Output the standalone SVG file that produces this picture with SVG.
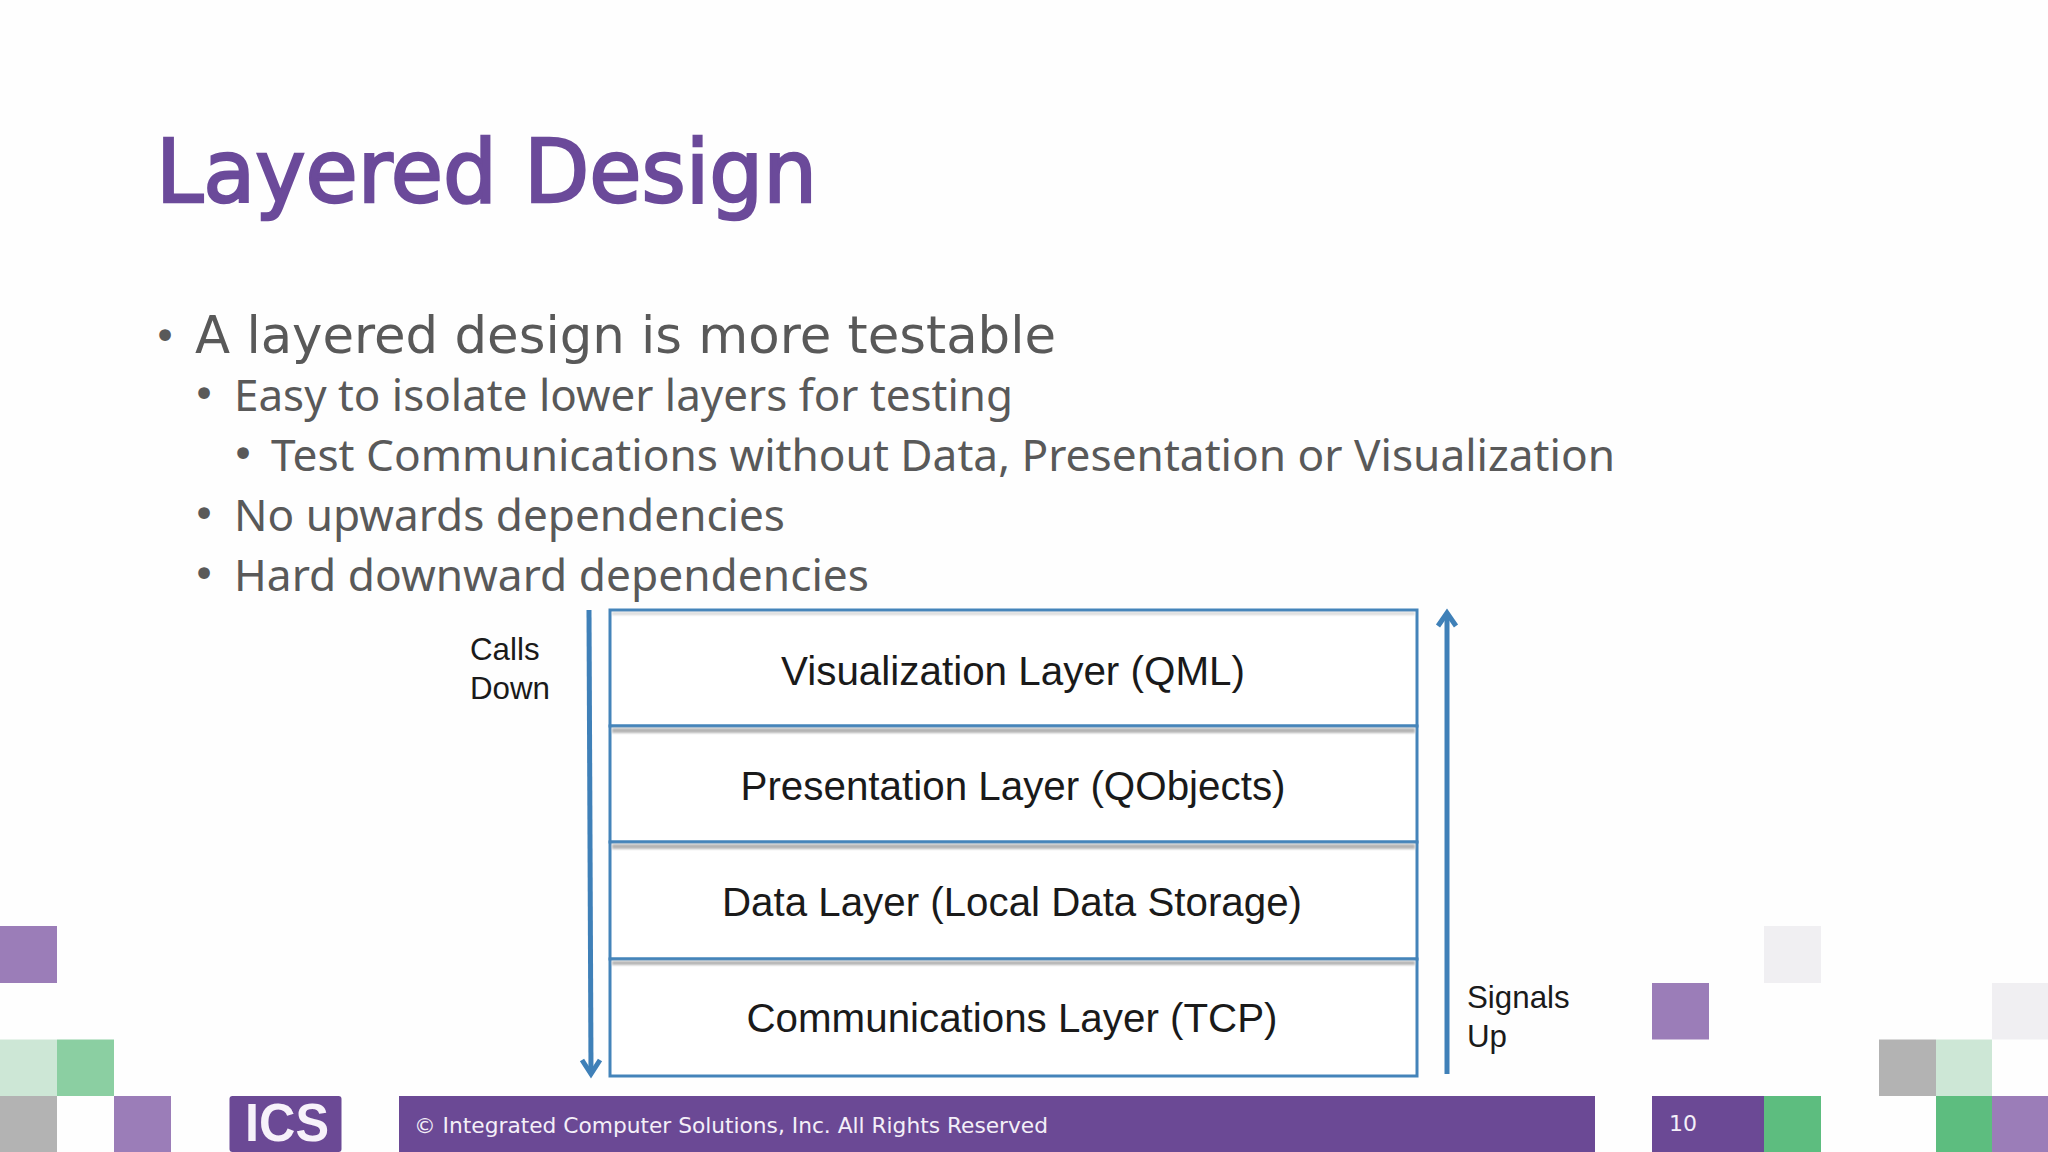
<svg xmlns="http://www.w3.org/2000/svg" width="2048" height="1152" viewBox="0 0 2048 1152">
<defs>
<filter id="soft" x="-5%" y="-100%" width="110%" height="300%"><feGaussianBlur stdDeviation="1.3"/></filter>
<style>
.title{font-family:"DejaVu Sans",sans-serif;font-size:88px;fill:#6b4a9a;stroke:#6b4a9a;stroke-width:2.500px}
.b1{font-family:"DejaVu Sans",sans-serif;font-size:52px;fill:#595959}
.b2{font-family:"Noto Sans",sans-serif;font-size:44px;fill:#595959}
.bu{font-family:"DejaVu Sans",sans-serif;font-size:40px;fill:#595959;text-anchor:middle}
.layer{font-family:"Liberation Sans",sans-serif;font-size:41px;fill:#1a1a1a;text-anchor:middle}
.note{font-family:"Liberation Sans",sans-serif;font-size:31.300px;fill:#1a1a1a}
.foot{font-family:"DejaVu Sans",sans-serif;font-size:22px;fill:#f4eff8}
.p{fill:#9b7db8}.g{fill:#5dbd7f}.lg{fill:#cde7d6}.mg{fill:#8bcfa2}.gr{fill:#b3b3b3}.w{fill:#f0eff2}.d{fill:#6b4995}
.box{fill:#fff;stroke:#4484ba;stroke-width:3}
.sh{fill:#b4b4b4;filter:url(#soft)}
.arr{stroke:#3f80b8;stroke-width:5;fill:none}
</style>
</defs>
<rect width="2048" height="1152" fill="#fefefe"/>
<g id="decor">
<rect class="p" x="0" y="926" width="57" height="57"/>
<rect class="lg" x="0" y="1039.500" width="57" height="56.500"/>
<rect class="mg" x="57" y="1039.500" width="57" height="56.500"/>
<rect class="gr" x="0" y="1096" width="57" height="56"/>
<rect class="p" x="114" y="1096" width="57" height="56"/>
<rect class="w" x="1764" y="926" width="57" height="57"/>
<rect class="p" x="1652" y="983" width="57" height="56.500"/>
<rect class="w" x="1992" y="983" width="56" height="56.500"/>
<rect class="gr" x="1879" y="1039.500" width="57" height="56.500"/>
<rect class="lg" x="1936" y="1039.500" width="56" height="56.500"/>
<rect class="g" x="1936" y="1096" width="56" height="56"/>
<rect class="p" x="1992" y="1096" width="56" height="56"/>
<rect class="g" x="1764" y="1096" width="57" height="56"/>
</g>
<g id="title"><text class="title" x="156" y="202" textLength="661" lengthAdjust="spacingAndGlyphs">Layered Design</text></g>
<g id="bullets">
<text class="bu" x="165" y="350">•</text><text class="b1" x="195" y="353" textLength="861" lengthAdjust="spacingAndGlyphs">A layered design is more testable</text>
<text class="bu" x="204" y="408">•</text><text class="b2" x="234" y="411" textLength="779" lengthAdjust="spacingAndGlyphs">Easy to isolate lower layers for testing</text>
<text class="bu" x="243" y="468">•</text><text class="b2" x="271" y="470.500" textLength="1344" lengthAdjust="spacingAndGlyphs">Test Communications without Data, Presentation or Visualization</text>
<text class="bu" x="204" y="528">•</text><text class="b2" x="234" y="530.500" textLength="551" lengthAdjust="spacingAndGlyphs">No upwards dependencies</text>
<text class="bu" x="204" y="588">•</text><text class="b2" x="234" y="590.500" textLength="635" lengthAdjust="spacingAndGlyphs">Hard downward dependencies</text>
</g>
<g id="visualization"><rect class="box" x="610" y="610" width="807" height="116"/><rect class="sh" x="612" y="612" width="803" height="3" opacity="0.500"/><text class="layer" x="1013" y="685" textLength="464" lengthAdjust="spacingAndGlyphs">Visualization Layer (QML)</text></g>
<g id="presentation"><rect class="box" x="610" y="726" width="807" height="116"/><rect class="sh" x="612" y="728" width="803" height="5"/><text class="layer" x="1013" y="800" textLength="545" lengthAdjust="spacingAndGlyphs">Presentation Layer (QObjects)</text></g>
<g id="data"><rect class="box" x="610" y="842" width="807" height="117"/><rect class="sh" x="612" y="844" width="803" height="5"/><text class="layer" x="1012" y="916" textLength="580" lengthAdjust="spacingAndGlyphs">Data Layer (Local Data Storage)</text></g>
<g id="communications"><rect class="box" x="610" y="959" width="807" height="117"/><rect class="sh" x="612" y="961" width="803" height="4"/><text class="layer" x="1012" y="1032" textLength="531" lengthAdjust="spacingAndGlyphs">Communications Layer (TCP)</text></g>
<g id="connectors">
<path class="arr" d="M589 610 L591 1072"/><path class="arr" d="M582 1060 L591 1074 L600 1060"/>
<path class="arr" d="M1447 1074 L1447 614"/><path class="arr" d="M1438 626 L1447 613 L1456 626"/>
</g>
<g id="calls-down"><text class="note" x="470" y="660">Calls</text><text class="note" x="470" y="699">Down</text></g>
<g id="signals-up"><text class="note" x="1467" y="1008">Signals</text><text class="note" x="1467" y="1047">Up</text></g>
<g id="logo"><rect class="d" x="229.500" y="1096" width="112" height="56" rx="3"/><text x="287" y="1141" font-family="'Liberation Sans',sans-serif" font-size="54" font-weight="700" fill="#f7f2fa" text-anchor="middle" textLength="84" lengthAdjust="spacingAndGlyphs">ICS</text></g>
<g id="footer"><rect class="d" x="399" y="1096" width="1196" height="56"/><text class="foot" x="414" y="1133" textLength="634" lengthAdjust="spacingAndGlyphs">© Integrated Computer Solutions, Inc. All Rights Reserved</text></g>
<g id="page"><rect class="d" x="1652" y="1096" width="112" height="56"/><text class="foot" x="1669" y="1131">10</text></g>
</svg>
